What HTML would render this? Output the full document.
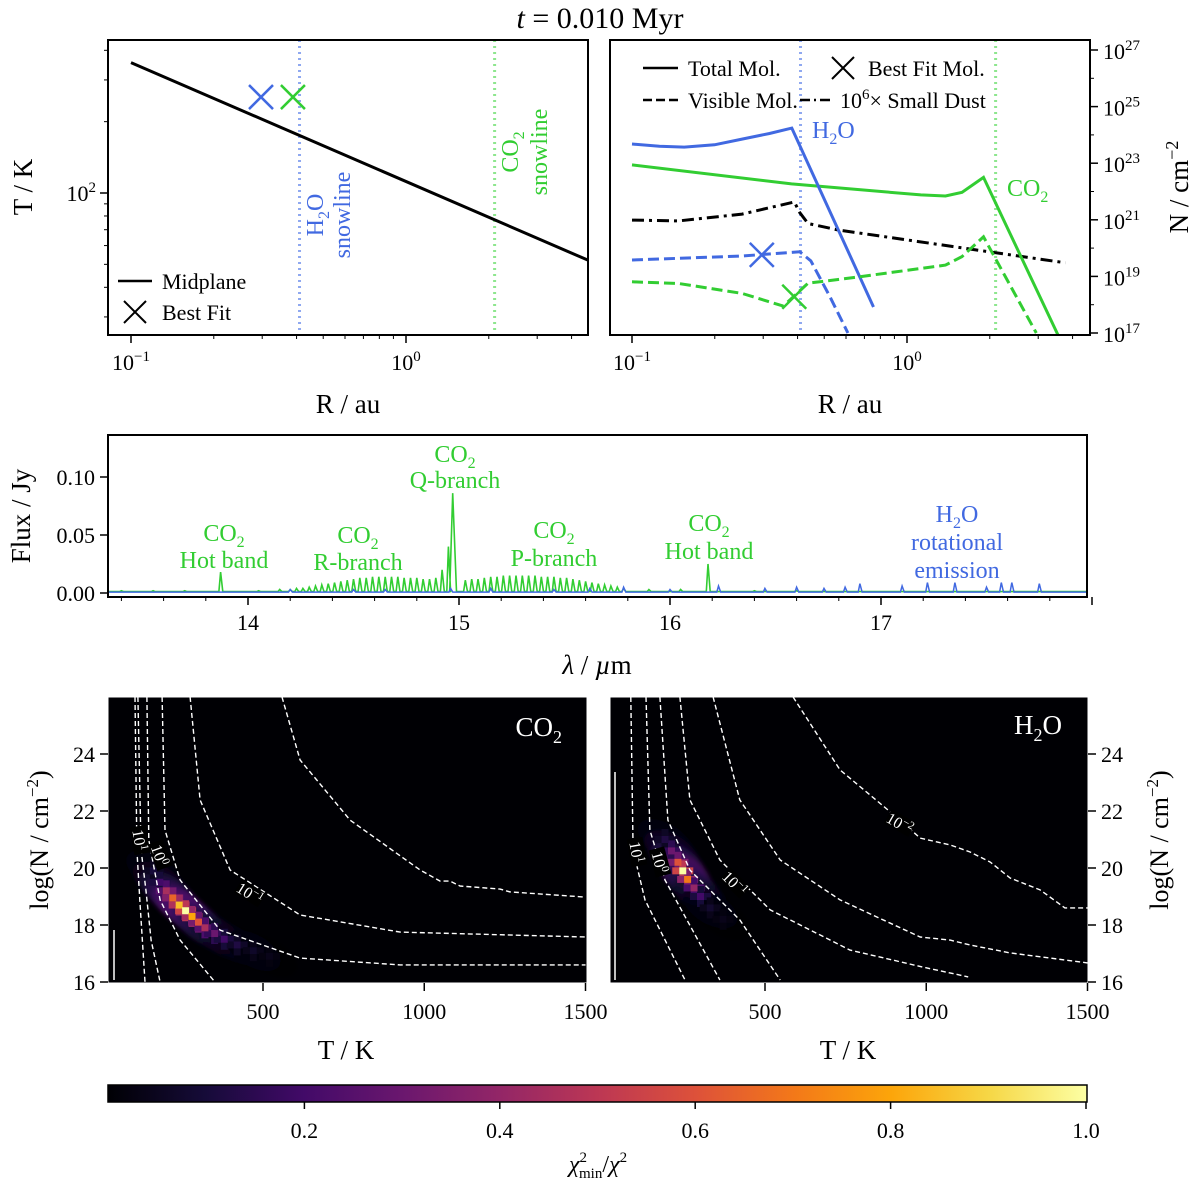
<!DOCTYPE html>
<html><head><meta charset="utf-8">
<style>
html,body{margin:0;padding:0;background:#fff;}
svg{display:block;font-family:"Liberation Serif","DejaVu Serif",serif;}
</style></head>
<body>
<svg id="fig" width="1200" height="1185" viewBox="0 0 1200 1185" xmlns="http://www.w3.org/2000/svg">
<defs>
<linearGradient id="inferno" x1="0" x2="1" y1="0" y2="0">
<stop offset="0" stop-color="#000004"/><stop offset="0.1" stop-color="#160b39"/><stop offset="0.2" stop-color="#420a68"/><stop offset="0.3" stop-color="#6a176e"/><stop offset="0.4" stop-color="#932667"/><stop offset="0.5" stop-color="#bc3754"/><stop offset="0.6" stop-color="#dd513a"/><stop offset="0.7" stop-color="#f37819"/><stop offset="0.8" stop-color="#fca50a"/><stop offset="0.9" stop-color="#f6d746"/><stop offset="1" stop-color="#fcffa4"/>
</linearGradient>
<clipPath id="clipA"><rect x="108" y="40" width="480" height="295"/></clipPath>
<clipPath id="clipB"><rect x="610" y="40" width="480" height="295"/></clipPath>
<clipPath id="clipC"><rect x="108" y="435" width="979" height="162"/></clipPath>
<clipPath id="clipD"><rect x="108" y="697" width="479" height="286"/></clipPath>
<clipPath id="clipE"><rect x="610" y="697" width="478" height="286"/></clipPath>
<filter id="blur"><feGaussianBlur stdDeviation="2"/></filter>
</defs>
<text x="600" y="28" text-anchor="middle" font-size="30"><tspan font-style="italic">t</tspan> = 0.010 Myr</text>

<g id="pA"></g>
<rect x="108" y="40" width="480" height="295" fill="none" stroke="#000" stroke-width="2"/>
<text transform="translate(32,187) rotate(-90)" text-anchor="middle" font-size="27">T / K</text>
<text x="348" y="413" text-anchor="middle" font-size="27">R / au</text>
<g>
<line x1="118" y1="281" x2="152" y2="281" stroke="#000" stroke-width="2.5"/>
<text x="162" y="289" font-size="22">Midplane</text>
<path d="M124 301 L146 323 M146 301 L124 323" stroke="#000" stroke-width="2"/>
<text x="162" y="320" font-size="22">Best Fit</text>
</g>
<text transform="translate(323,215) rotate(-90)" text-anchor="middle" font-size="24" fill="#4169e1">H<tspan font-size="16" dy="6">2</tspan><tspan dy="-6">O</tspan></text>
<text transform="translate(350,215) rotate(-90)" text-anchor="middle" font-size="24" fill="#4169e1">snowline</text>
<text transform="translate(518,152) rotate(-90)" text-anchor="middle" font-size="24" fill="#32cd32">CO<tspan font-size="16" dy="6">2</tspan></text>
<text transform="translate(547,152) rotate(-90)" text-anchor="middle" font-size="24" fill="#32cd32">snowline</text>

<g id="pB"></g>
<rect x="610" y="40" width="480" height="295" fill="none" stroke="#000" stroke-width="2"/>
<text transform="translate(1188,187) rotate(-90)" text-anchor="middle" font-size="27">N / cm<tspan font-size="18" dy="-10">−2</tspan></text>
<text x="850" y="413" text-anchor="middle" font-size="27">R / au</text>
<g>
<line x1="643" y1="68" x2="678" y2="68" stroke="#000" stroke-width="2.5"/>
<text x="688" y="76" font-size="22">Total Mol.</text>
<path d="M832 57 L854 79 M854 57 L832 79" stroke="#000" stroke-width="2"/>
<text x="868" y="76" font-size="22">Best Fit Mol.</text>
<line x1="643" y1="100" x2="678" y2="100" stroke="#000" stroke-width="2.5" stroke-dasharray="9,4"/>
<text x="688" y="108" font-size="22">Visible Mol.</text>
<line x1="800" y1="100" x2="832" y2="100" stroke="#000" stroke-width="2.5" stroke-dasharray="10,4,2,4"/>
<text x="840" y="108" font-size="22">10<tspan font-size="15" dy="-9">6</tspan><tspan dy="9">× Small Dust</tspan></text>
</g>
<text x="812" y="138" font-size="24" fill="#4169e1">H<tspan font-size="16" dy="6">2</tspan><tspan dy="-6">O</tspan></text>
<text x="1007" y="196" font-size="24" fill="#32cd32">CO<tspan font-size="16" dy="6">2</tspan></text>

<g id="pC"></g>
<rect x="108" y="435" width="979" height="162" fill="none" stroke="#000" stroke-width="2"/>
<text transform="translate(30,516) rotate(-90)" text-anchor="middle" font-size="27">Flux / Jy</text>
<text x="597" y="674" text-anchor="middle" font-size="27"><tspan font-style="italic">λ</tspan> / <tspan font-style="italic">µ</tspan>m</text>
<g font-size="24" text-anchor="middle" fill="#32cd32">
<text x="224" y="541">CO<tspan font-size="16" dy="6">2</tspan></text><text x="224" y="568">Hot band</text>
<text x="358" y="543">CO<tspan font-size="16" dy="6">2</tspan></text><text x="358" y="570">R-branch</text>
<text x="455" y="462">CO<tspan font-size="16" dy="6">2</tspan></text><text x="455" y="488">Q-branch</text>
<text x="554" y="538">CO<tspan font-size="16" dy="6">2</tspan></text><text x="554" y="566">P-branch</text>
<text x="709" y="531">CO<tspan font-size="16" dy="6">2</tspan></text><text x="709" y="559">Hot band</text>
<g fill="#4169e1"><text x="957" y="522">H<tspan font-size="16" dy="6">2</tspan><tspan dy="-6">O</tspan></text><text x="957" y="550">rotational</text><text x="957" y="578">emission</text></g>
</g>

<rect x="108" y="697" width="479" height="286" fill="#000004"/>
<rect x="610" y="697" width="478" height="286" fill="#000004"/>
<g id="pD" clip-path="url(#clipD)"></g>
<g id="pE" clip-path="url(#clipE)"></g>
<g id="axD"></g>
<g id="axE"></g>
<text x="562" y="736" text-anchor="end" font-size="27" fill="#fff">CO<tspan font-size="18" dy="7">2</tspan></text>
<text x="1062" y="734" text-anchor="end" font-size="27" fill="#fff">H<tspan font-size="18" dy="7">2</tspan><tspan dy="-7">O</tspan></text>
<text transform="translate(48,840) rotate(-90)" text-anchor="middle" font-size="26">log(N / cm<tspan font-size="17" dy="-10">−2</tspan><tspan dy="10">)</tspan></text>
<text transform="translate(1168,840) rotate(-90)" text-anchor="middle" font-size="26">log(N / cm<tspan font-size="17" dy="-10">−2</tspan><tspan dy="10">)</tspan></text>
<text x="346" y="1059" text-anchor="middle" font-size="27">T / K</text>
<text x="848" y="1059" text-anchor="middle" font-size="27">T / K</text>

<rect x="108" y="1085" width="979" height="17" fill="url(#inferno)" stroke="#000" stroke-width="1.5"/>
<g id="cb"></g>
<text x="598" y="1172" text-anchor="middle" font-size="24"><tspan font-style="italic">χ</tspan><tspan font-size="15" dy="-10">2</tspan><tspan font-size="15" dx="-8" dy="16">min</tspan><tspan dy="-6">/</tspan><tspan font-style="italic">χ</tspan><tspan font-size="15" dy="-10">2</tspan></text>
</svg>
<script>
// ---------- Data ----------
const midR = [0.1, 4.6];
const midT = [355, 52];
const snowH2O = 0.41;
const snowCO2 = 2.1;
const bestFitR = [0.297, 0.388];
const bestFitT = [254, 254];
const h2oTotLogR = [-1.0,-0.9,-0.81,-0.7,-0.6,-0.5,-0.419,-0.122];
const h2oTotLogN = [23.68,23.6,23.57,23.65,23.85,24.05,24.24,17.92];
const co2TotLogR = [-1.0,-0.42,0.05,0.14,0.2,0.278,0.549];
const co2TotLogN = [22.94,22.27,21.88,21.84,21.97,22.5,16.93];
const dustLogR = [-1.0,-0.83,-0.6,-0.41,-0.39,-0.36,-0.25,0.576];
const dustLogN = [20.99,20.96,21.2,21.63,21.25,20.87,20.64,19.48];
const h2oVisLogR = [-1.0,-0.6,-0.39,-0.35,-0.28,-0.215];
const h2oVisLogN = [19.58,19.72,19.87,19.55,18.28,17.0];
const co2VisLogR = [-1.0,-0.83,-0.6,-0.45,-0.36,-0.2,0.14,0.2,0.278,0.47];
const co2VisLogN = [18.81,18.75,18.4,17.95,18.76,18.95,19.4,19.7,20.4,17.0];
const fitH2O = [-0.528, 19.76];
const fitCO2 = [-0.41, 18.28];
const co2Wl = [13.40,13.55,13.70,13.87,14.05,14.15,14.20,14.23,14.26,14.29,14.32,14.35,14.38,14.41,14.44,14.47,14.50,14.53,14.56,14.59,14.62,14.65,14.68,14.71,14.74,14.77,14.80,14.83,14.86,14.89,14.92,14.95,14.97,15.03,15.06,15.09,15.12,15.15,15.18,15.21,15.24,15.27,15.30,15.33,15.36,15.39,15.42,15.45,15.48,15.51,15.54,15.57,15.60,15.63,15.66,15.69,15.72,15.75,15.78,15.9,16.05,16.18,16.4,16.6];
const co2Flux = [0.002,0.002,0.002,0.018,0.002,0.003,0.003,0.004,0.004,0.005,0.006,0.007,0.008,0.009,0.010,0.011,0.012,0.013,0.013,0.014,0.014,0.014,0.014,0.014,0.013,0.013,0.013,0.012,0.012,0.013,0.020,0.040,0.086,0.011,0.012,0.012,0.013,0.014,0.014,0.015,0.015,0.015,0.015,0.015,0.015,0.014,0.014,0.014,0.013,0.013,0.012,0.011,0.010,0.009,0.008,0.007,0.006,0.005,0.004,0.003,0.003,0.025,0.002,0.002];
const h2oWl = [14.2,14.5,14.65,14.96,15.15,15.45,15.62,15.78,16.0,16.23,16.45,16.6,16.73,16.83,16.9,17.1,17.22,17.35,17.5,17.57,17.62,17.75];
const h2oFlux = [0.003,0.003,0.003,0.004,0.004,0.003,0.004,0.005,0.003,0.006,0.004,0.005,0.004,0.005,0.008,0.006,0.009,0.009,0.005,0.009,0.009,0.008];
const co2CellT = [160,180,200,220,240,260,280,300,320,350,380,420,470,520];
const co2CellN = [19.9,19.5,19.2,18.95,18.7,18.5,18.3,18.1,17.9,17.7,17.5,17.3,17.1,16.9];
const co2CellV = [0.1,0.2,0.45,0.65,0.85,1.0,0.8,0.6,0.45,0.3,0.2,0.12,0.07,0.04];
const h2oCellT = [190,210,230,245,260,280,300,330,370];
const h2oCellN = [21.0,20.6,20.2,19.9,19.6,19.3,19.0,18.6,18.2];
const h2oCellV = [0.12,0.3,0.6,1.0,0.7,0.4,0.2,0.08,0.04];
const co2ContT = [[103,109,118,134],[112,122,137,153,181],[140,146,181,243,351],[187,196,243,367,615,925,1500],[274,305,398,615,925,1500],[559,615,770,987,1049,1080,1111,1235,1266,1500]];
const co2ContN = [[26,20.63,18.88,16],[26,20.63,19.23,17.47,16],[26,20.98,18.88,17.47,16],[26,21.33,19.58,17.82,16.84,16.6,16.6],[26,22.39,19.93,18.35,17.75,17.58],[26,23.79,21.68,19.93,19.54,19.54,19.37,19.26,19.16,18.98]];
const h2oContT = [[84,91,128,252],[131,143,190,360],[174,199,267,422,547],[236,267,360,516,764,987,1130],[339,422,547,733,981,1074,1136,1260,1500],[587,733,919,981,1074,1136,1198,1260,1353,1430,1500]];
const h2oContN = [[26,20.63,18.88,16.07],[26,21.33,19.58,16.07],[26,21.68,19.93,18.18,16.07],[26,22.39,20.28,18.53,17.12,16.53,16.18],[26,22.39,20.28,18.88,17.58,17.47,17.3,17.02,16.67],[26,23.44,21.68,21.05,20.81,20.56,20.21,19.65,19.23,18.6,18.6]];
const cbTicks = [0.2,0.4,0.6,0.8,1.0];
const mapTTicks = [500,1000,1500];
const mapNTicks = [16,18,20,22,24];
const specXTicks = [14,15,16,17];
const specYTicks = [0.00,0.05,0.10];

// ---------- Scales ----------
const NS='http://www.w3.org/2000/svg';
function mk(tag,attrs,parent){const e=document.createElementNS(NS,tag);for(const k in attrs)e.setAttribute(k,attrs[k]);parent.appendChild(e);return e;}
const xA = r => 131 + 275*(Math.log10(r)+1);
const yA = t => 193 - 237*(Math.log10(t)-2);
const xB = lr => 632 + 275*(lr+1);
const yB = ln => 50 + (27-ln)*28.3;
const xC = w => 248 + 211*(w-14);
const yC = f => 593 - 1160*f;
const xD = t => 263 + 0.3225*(t-500);
const xE = t => 765 + 0.3225*(t-500);
const yM = n => 754 - 28.5*(n-24);
const xCb = v => 109 + 977*v;

function infer(v){const s=[[0,0,0,4],[.1,22,11,57],[.2,66,10,104],[.3,106,23,110],[.4,147,38,103],[.5,188,55,84],[.6,221,81,58],[.7,243,120,25],[.8,252,165,10],[.9,246,215,70],[1,252,255,164]];
 v=Math.max(0,Math.min(1,v));for(let i=1;i<s.length;i++){if(v<=s[i][0]){const a=s[i-1],b=s[i],f=(v-a[0])/(b[0]-a[0]);return `rgb(${Math.round(a[1]+f*(b[1]-a[1]))},${Math.round(a[2]+f*(b[2]-a[2]))},${Math.round(a[3]+f*(b[3]-a[3]))})`;}}return 'rgb(252,255,164)';}

function logXTicks(parent,xf,y0,xmin,xmax){
 for(let d=-1;d<=1;d++){for(let m=1;m<10;m++){const r=m*Math.pow(10,d);const x=xf(r);if(x<xmin||x>xmax)continue;
  mk('line',{x1:x,y1:y0,x2:x,y2:y0+(m===1?8:4),stroke:'#000','stroke-width':m===1?1.5:1},parent);}}
}

// ---------- Panel A ----------
const pA=document.getElementById('pA');
const gA=mk('g',{'clip-path':'url(#clipA)'},pA);
let e=mk('line',{x1:xA(snowH2O),y1:40,x2:xA(snowH2O),y2:335,stroke:'#8fa8f0','stroke-width':3,'stroke-dasharray':'2,4'},gA);


e=mk('line',{x1:xA(snowCO2),y1:40,x2:xA(snowCO2),y2:335,stroke:'#8ee68e','stroke-width':3,'stroke-dasharray':'2,4'},gA);


e=mk('line',{x1:xA(midR[0]),y1:yA(midT[0]),x2:xA(midR[1]),y2:yA(midT[1]),stroke:'#000','stroke-width':3},gA);


const fitCols=['#4169e1','#32cd32'];
for(let i=0;i<2;i++){const x=xA(bestFitR[i]),y=yA(bestFitT[i]);
 e=mk('path',{d:`M${x-12} ${y-12}L${x+12} ${y+12}M${x+12} ${y-12}L${x-12} ${y+12}`,stroke:fitCols[i],'stroke-width':2.5},gA);
 
 }
logXTicks(pA,xA,335,108,588);
let t=mk('text',{x:131,y:370,'text-anchor':'middle','font-size':22},pA);t.innerHTML='10<tspan font-size="15" dy="-9">−1</tspan>';
t=mk('text',{x:406,y:370,'text-anchor':'middle','font-size':22},pA);t.innerHTML='10<tspan font-size="15" dy="-9">0</tspan>';
[30,40,50,60,70,80,90,100,200,300,400].forEach(v=>{const y=yA(v);if(y<40||y>335)return;mk('line',{x1:108,y1:y,x2:v===100?100:104,y2:y,stroke:'#000','stroke-width':v===100?1.5:1},pA);});
t=mk('text',{x:96,y:201,'text-anchor':'end','font-size':22},pA);t.innerHTML='10<tspan font-size="15" dy="-9">2</tspan>';

// ---------- Panel B ----------
const pB=document.getElementById('pB');
const gB=mk('g',{'clip-path':'url(#clipB)'},pB);
e=mk('line',{x1:xB(Math.log10(snowH2O)),y1:40,x2:xB(Math.log10(snowH2O)),y2:335,stroke:'#8fa8f0','stroke-width':3,'stroke-dasharray':'2,4'},gB);


e=mk('line',{x1:xB(Math.log10(snowCO2)),y1:40,x2:xB(Math.log10(snowCO2)),y2:335,stroke:'#8ee68e','stroke-width':3,'stroke-dasharray':'2,4'},gB);


function pl(R,N){return R.map((r,i)=>`${i?'L':'M'}${xB(r).toFixed(1)} ${yB(N[i]).toFixed(1)}`).join('');}
e=mk('path',{d:pl(dustLogR,dustLogN),fill:'none',stroke:'#000','stroke-width':3,'stroke-dasharray':'12,5,3,5'},gB);


e=mk('path',{d:pl(co2TotLogR,co2TotLogN),fill:'none',stroke:'#32cd32','stroke-width':3},gB);


e=mk('path',{d:pl(h2oTotLogR,h2oTotLogN),fill:'none',stroke:'#4169e1','stroke-width':3},gB);


e=mk('path',{d:pl(co2VisLogR,co2VisLogN),fill:'none',stroke:'#32cd32','stroke-width':3,'stroke-dasharray':'11,5'},gB);


e=mk('path',{d:pl(h2oVisLogR,h2oVisLogN),fill:'none',stroke:'#4169e1','stroke-width':3,'stroke-dasharray':'11,5'},gB);


[[fitH2O,'#4169e1','h2o-best-fit-mol-marker'],[fitCO2,'#32cd32','co2-best-fit-mol-marker']].forEach(a=>{const x=xB(a[0][0]),y=yB(a[0][1]);
 e=mk('path',{d:`M${x-12} ${y-12}L${x+12} ${y+12}M${x+12} ${y-12}L${x-12} ${y+12}`,stroke:a[1],'stroke-width':2.5},gB);
 
 });
logXTicks(pB,r=>xB(Math.log10(r)),335,610,1090);
t=mk('text',{x:632,y:370,'text-anchor':'middle','font-size':22},pB);t.innerHTML='10<tspan font-size="15" dy="-9">−1</tspan>';
t=mk('text',{x:907,y:370,'text-anchor':'middle','font-size':22},pB);t.innerHTML='10<tspan font-size="15" dy="-9">0</tspan>';
for(let n=17;n<=27;n++){const y=yB(n);mk('line',{x1:1090,y1:y,x2:n%2?1098:1094,y2:y,stroke:'#000','stroke-width':n%2?1.5:1},pB);
 if(n%2){t=mk('text',{x:1103,y:y+9,'font-size':22},pB);t.innerHTML=`10<tspan font-size="15" dy="-9">${n}</tspan>`;}}

// ---------- Panel C ----------
const pC=document.getElementById('pC');
const gC=mk('g',{'clip-path':'url(#clipC)'},pC);
function specPath(W,F,base){const idx=W.map((w,i)=>i).sort((a,b)=>W[a]-W[b]);let d=`M${xC(13.3)} ${yC(base)}`;
 idx.forEach(i=>{const w=W[i],hw=F[i]>0.05?0.014:0.008;d+=`L${xC(w-hw).toFixed(1)} ${yC(base).toFixed(1)}L${xC(w).toFixed(1)} ${yC(F[i]).toFixed(1)}L${xC(w+hw*1.3).toFixed(1)} ${yC(base).toFixed(1)}`;});
 d+=`L${xC(18.1)} ${yC(base)}`;return d;}
e=mk('path',{d:specPath(co2Wl,co2Flux,0.0012),fill:'none',stroke:'#32cd32','stroke-width':1.6},gC);


e=mk('path',{d:specPath(h2oWl,h2oFlux,0.0008),fill:'none',stroke:'#4169e1','stroke-width':1.5},gC);


for(let w=13.4;w<18.0;w+=0.2){const x=xC(w);const maj=Math.abs(w-Math.round(w))<0.01;mk('line',{x1:x,y1:597,x2:x,y2:maj?605:601,stroke:'#000','stroke-width':maj?1.5:1},pC);}
specXTicks.forEach(v=>{t=mk('text',{x:xC(v),y:630,'text-anchor':'middle','font-size':22},pC);t.textContent=String(v);});
specYTicks.forEach(v=>{const y=yC(v);mk('line',{x1:108,y1:y,x2:100,y2:y,stroke:'#000','stroke-width':1.5},pC);t=mk('text',{x:95,y:y+8,'text-anchor':'end','font-size':22},pC);t.textContent=v.toFixed(2);});

// ---------- Maps ----------
function drawMap(g,xf,CT,CN,CV,contT,contN,prefix){
 const cw=7,ch=7;
 const glow=mk('g',{filter:'url(#blur)'},g);
 CT.forEach((tv,i)=>{const x=xf(tv),y=yM(CN[i]);
  e=mk('ellipse',{cx:x,cy:y,rx:30,ry:16,fill:infer(CV[i]*0.25),opacity:0.6,transform:`rotate(30 ${x} ${y})`},glow);
  
  });
 CT.forEach((tv,i)=>{const x=xf(tv),y=yM(CN[i]);
  [[-1,0,0.55],[1,0,0.55],[0,-1,0.5],[0,1,0.5]].forEach(o=>{mk('rect',{x:x-cw/2+o[0]*cw,y:y-ch/2+o[1]*ch,width:cw,height:ch,fill:infer(CV[i]*o[2])},g);});});
 CT.forEach((tv,i)=>{const x=xf(tv),y=yM(CN[i]);
  e=mk('rect',{x:x-cw/2,y:y-ch/2,width:cw,height:ch,fill:infer(CV[i])},g);
  
  });
 contT.forEach((ct,k)=>{const d=ct.map((tv,i)=>`${i?'L':'M'}${xf(tv).toFixed(1)} ${yM(contN[k][i]).toFixed(1)}`).join('');
  e=mk('path',{d:d,fill:'none',stroke:'#fff','stroke-width':1.4,'stroke-dasharray':'5,3','stroke-linejoin':'round'},g);
  
  });
}
const pD=document.getElementById('pD'),pE=document.getElementById('pE');
drawMap(pD,xD,co2CellT,co2CellN,co2CellV,co2ContT,co2ContN,'co2-map');
drawMap(pE,xE,h2oCellT,h2oCellN,h2oCellV,h2oContT,h2oContN,'h2o-map');
[[pD,250,893,32,'10<tspan font-size="11" dy="-6">−1</tspan>'],[pD,160,855,70,'10<tspan font-size="11" dy="-6">0</tspan>'],[pD,140,840,80,'10<tspan font-size="11" dy="-6">1</tspan>'],
 [pE,735,883,45,'10<tspan font-size="11" dy="-6">−1</tspan>'],[pE,660,862,75,'10<tspan font-size="11" dy="-6">0</tspan>'],[pE,637,852,80,'10<tspan font-size="11" dy="-6">1</tspan>'],[pE,900,823,30,'10<tspan font-size="11" dy="-6">−2</tspan>']].forEach(a=>{
 mk('rect',{x:a[1]-14,y:a[2]-8,width:28,height:16,fill:'#000',transform:`rotate(${a[3]} ${a[1]} ${a[2]})`},a[0]);
 t=mk('text',{x:a[1],y:a[2]+6,'text-anchor':'middle','font-size':16,fill:'#fff',transform:`rotate(${a[3]} ${a[1]} ${a[2]})`},a[0]);t.innerHTML=a[4];
 
 });
mk('line',{x1:615,y1:772,x2:615,y2:980,stroke:'#fff','stroke-width':1.5},pE);
mk('line',{x1:114,y1:930,x2:114,y2:980,stroke:'#fff','stroke-width':1.5},pD);
const axD=document.getElementById('axD'),axE=document.getElementById('axE');
mk('rect',{x:108,y:697,width:479,height:286,fill:'none',stroke:'#fff','stroke-width':1},axD);
mk('rect',{x:610,y:697,width:478,height:286,fill:'none',stroke:'#fff','stroke-width':1},axE);
mapTTicks.forEach(v=>{[[axD,xD],[axE,xE]].forEach(a=>{const x=a[1](v);mk('line',{x1:x,y1:983,x2:x,y2:991,stroke:'#000','stroke-width':1.5},a[0]);
 t=mk('text',{x:x,y:1019,'text-anchor':'middle','font-size':22},a[0]);t.textContent=String(v);});});
mapNTicks.forEach(v=>{const y=yM(v);mk('line',{x1:108,y1:y,x2:100,y2:y,stroke:'#000','stroke-width':1.5},axD);
 t=mk('text',{x:95,y:y+8,'text-anchor':'end','font-size':22},axD);t.textContent=String(v);
 mk('line',{x1:1088,y1:y,x2:1096,y2:y,stroke:'#000','stroke-width':1.5},axE);
 t=mk('text',{x:1101,y:y+8,'font-size':22},axE);t.textContent=String(v);});

// ---------- Colorbar ----------
const cb=document.getElementById('cb');
cbTicks.forEach(v=>{const x=xCb(v);mk('line',{x1:x,y1:1102,x2:x,y2:1109,stroke:'#000','stroke-width':1.5},cb);
 t=mk('text',{x:x,y:1138,'text-anchor':'middle','font-size':22},cb);t.textContent=v.toFixed(1);});
</script>
</body></html>
